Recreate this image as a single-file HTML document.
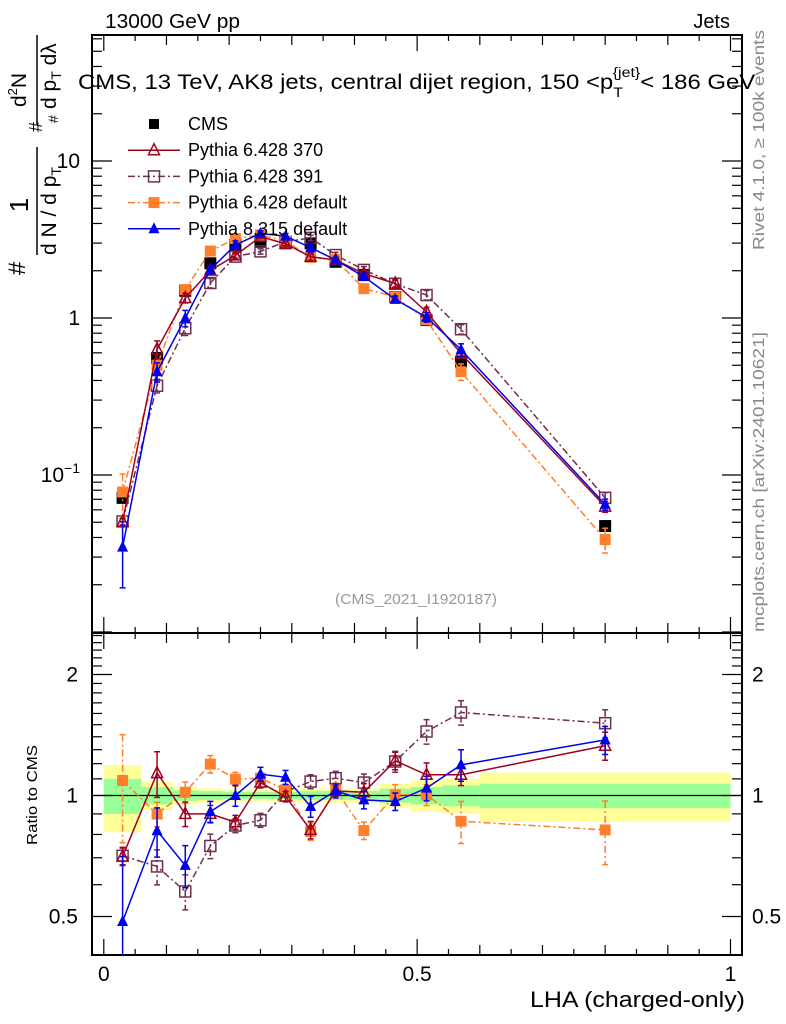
<!DOCTYPE html>
<html><head><meta charset="utf-8"><style>
body{margin:0;background:#fff}
svg{display:block;font-family:"Liberation Sans",sans-serif}
</style></head><body>
<svg id="chart" width="786" height="1024" viewBox="0 0 786 1024">
<rect x="0" y="0" width="786" height="1024" fill="#fff"/>
<g id="bands"></g>
<g id="axes"></g>
<g id="series"></g>
<text x="105" y="28" font-size="20" textLength="135" lengthAdjust="spacingAndGlyphs">13000 GeV pp</text>
<text x="730" y="28" font-size="20" text-anchor="end">Jets</text>
<text x="0" y="89" font-size="21" transform="translate(78,0) scale(1.14,1)">CMS, 13 TeV, AK8 jets, central dijet region, 150 &lt;p<tspan font-size="14" dy="8">T</tspan><tspan font-size="14" dy="-20" dx="-9">{jet}</tspan><tspan dy="12">&lt; 186 GeV</tspan></text>
<text x="416" y="604" font-size="15" fill="#999" text-anchor="middle" textLength="162" lengthAdjust="spacingAndGlyphs">(CMS_2021_I1920187)</text>
<text transform="translate(764,250) rotate(-90)" font-size="16" fill="#888" textLength="220" lengthAdjust="spacingAndGlyphs">Rivet 4.1.0, ≥ 100k events</text>
<text transform="translate(764,632) rotate(-90)" font-size="16" fill="#888" textLength="300" lengthAdjust="spacingAndGlyphs">mcplots.cern.ch [arXiv:2401.10621]</text>
<text x="745" y="1007" font-size="22" text-anchor="end" textLength="215" lengthAdjust="spacingAndGlyphs">LHA (charged-only)</text>
<text transform="translate(37,845) rotate(-90)" font-size="15" textLength="100" lengthAdjust="spacingAndGlyphs">Ratio to CMS</text>
<g transform="translate(50,275) rotate(-90)">
 <text x="0" y="-25" font-size="24">#</text>
 <text x="70" y="-22" font-size="26" text-anchor="middle">1</text>
 <line x1="20" y1="-13" x2="128" y2="-13" stroke="#000" stroke-width="1.5"/>
 <text x="20" y="6" font-size="21">d N / d p<tspan font-size="14" dy="5">T</tspan></text>
 <text x="143" y="-8" font-size="18">#</text>
 <text x="152" y="8" font-size="14">#</text>
 <text x="168" y="-24" font-size="21">d<tspan font-size="13" dy="-9">2</tspan><tspan dy="9">N</tspan></text>
 <line x1="150" y1="-13" x2="240" y2="-13" stroke="#000" stroke-width="1.5"/>
 <text x="166" y="6" font-size="21">d p<tspan font-size="14" dy="5">T</tspan><tspan dy="-5"> dλ</tspan></text>
</g>
<g id="legend"></g>
</svg>
<script>
const xCenters=[0.03,0.085,0.13,0.17,0.21,0.25,0.29,0.33,0.37,0.415,0.465,0.515,0.57,0.8];
const binEdges=[0,0.06,0.11,0.15,0.19,0.23,0.27,0.31,0.35,0.39,0.44,0.49,0.54,0.6,1.0];
const cmsValues=[0.0715,0.556,1.49,2.23,2.92,3.06,2.99,2.99,2.28,1.88,1.36,0.97,0.527,0.0473];
const cmsYellow=[0.19,0.08,0.05,0.04,0.035,0.035,0.035,0.04,0.04,0.04,0.07,0.09,0.1,0.14];
const cmsGreen=[0.1,0.05,0.03,0.025,0.02,0.02,0.02,0.025,0.025,0.025,0.04,0.05,0.06,0.07];
const ratio370=[0.705,1.137,0.90,0.90,0.858,1.077,0.994,0.821,1.027,1.019,1.22,1.126,1.126,1.33];
const ratio391=[0.708,0.666,0.577,0.749,0.842,0.868,1.023,1.083,1.104,1.077,1.215,1.443,1.609,1.513];
const ratioP6def=[1.09,0.899,1.019,1.197,1.098,1.104,1.033,0.814,1.033,0.818,1.004,1.004,0.863,0.821];
const ratioP8def=[0.486,0.817,0.67,0.912,1.0,1.13,1.11,0.939,1.027,0.975,0.966,1.043,1.192,1.375];
const err370=[0.05,0.13,0.07,0.05,0.04,0.03,0.03,0.05,0.03,0.05,0.05,0.07,0.06,0.08];
const err391=[0.05,0.1,0.1,0.07,0.04,0.04,0.03,0.04,0.04,0.05,0.06,0.07,0.07,0.08];
const errP6def=[0.3,0.07,0.06,0.05,0.04,0.03,0.03,0.05,0.04,0.05,0.06,0.06,0.12,0.18];
const errP8def=[0.45,0.14,0.12,0.06,0.06,0.04,0.04,0.06,0.04,0.05,0.05,0.07,0.09,0.08];
const cmsErr=[0.03,0.02,0.02,0.02,0.02,0.02,0.02,0.02,0.02,0.02,0.02,0.02,0.03,0.04];
const legendLabels=["CMS","Pythia 6.428 370","Pythia 6.428 391","Pythia 6.428 default","Pythia 8.315 default"];

const NS="http://www.w3.org/2000/svg";
const L=92,R=742,T=35,MID=633,B=955;
const xs=v=>103.8+626.7*v;
const yTop=v=>318-157*Math.log10(v);
const yRat=v=>795.5-402*Math.log10(v);
function mk(tag,attrs,parent){const e=document.createElementNS(NS,tag);for(const k in attrs)e.setAttribute(k,attrs[k]);parent.appendChild(e);return e;}
const axes=document.getElementById('axes'),bands=document.getElementById('bands'),ser=document.getElementById('series'),leg=document.getElementById('legend');

for(let i=0;i<xCenters.length;i++){
 const x0=xs(binEdges[i]),x1=xs(binEdges[i+1]);
 const y=mk('rect',{x:x0,y:yRat(1+cmsYellow[i]),width:x1-x0,height:yRat(1-cmsYellow[i])-yRat(1+cmsYellow[i]),fill:'#ffff99'},bands);
 
 
 const g=mk('rect',{x:x0,y:yRat(1+cmsGreen[i]),width:x1-x0,height:yRat(1-cmsGreen[i])-yRat(1+cmsGreen[i]),fill:'#99ff99'},bands);
 
 
}
const one=mk('line',{x1:L,x2:R,y1:yRat(1),y2:yRat(1),stroke:'#000','stroke-width':1.3},bands);



const f1=mk('rect',{x:L,y:T,width:R-L,height:MID-T,fill:'none',stroke:'#000','stroke-width':2},axes);


const f2=mk('rect',{x:L,y:MID,width:R-L,height:B-MID,fill:'none',stroke:'#000','stroke-width':2},axes);


for(let k=0;k<=20;k++){
 const v=k*0.05,x=xs(v),len=(k%10===0)?16:(k%2===0?10:6);
 [[T,1],[MID,-1],[MID,1],[B,-1]].forEach(([y0,d])=>mk('line',{x1:x,x2:x,y1:y0,y2:y0+d*len,stroke:'#000','stroke-width':1.2},axes));
}
[[0,'0'],[0.5,'0.5'],[1,'1']].forEach(([v,t])=>{const e=mk('text',{x:xs(v),y:981,'font-size':21,'text-anchor':'middle'},axes);e.textContent=t;
 
 });
for(let d=-2;d<=1;d++){for(let m=1;m<=9;m++){const v=m*Math.pow(10,d),y=yTop(v);if(y<T||y>MID)continue;const len=m===1?20:10;
 mk('line',{x1:L,x2:L+len,y1:y,y2:y,stroke:'#000','stroke-width':1.2},axes);mk('line',{x1:R,x2:R-len,y1:y,y2:y,stroke:'#000','stroke-width':1.2},axes);}}
[[10,'10'],[1,'1']].forEach(([v,t])=>{const e=mk('text',{x:80,y:yTop(v)+7,'font-size':21,'text-anchor':'end'},axes);e.textContent=t;
 
 });
const e10=mk('text',{x:80,y:yTop(0.1)+7,'font-size':21,'text-anchor':'end'},axes);e10.innerHTML='10<tspan font-size="14" dy="-9">−1</tspan>';


[0.4,0.5,0.6,0.7,0.8,0.9,1,1.1,1.2,1.3,1.4,1.5,1.6,1.7,1.8,1.9,2,2.1,2.2,2.3,2.4,2.5].forEach(v=>{const y=yRat(v);if(y<MID||y>B)return;const major=(v===0.5||v===1||v===2);const len=major?20:10;
 mk('line',{x1:L,x2:L+len,y1:y,y2:y,stroke:'#000','stroke-width':1.2},axes);mk('line',{x1:R,x2:R-len,y1:y,y2:y,stroke:'#000','stroke-width':1.2},axes);});
[[2,'2'],[1,'1'],[0.5,'0.5']].forEach(([v,t])=>{[[78,'end'],[752,'start']].forEach(([x,a])=>{const e=mk('text',{x:x,y:yRat(v)+7,'font-size':21,'text-anchor':a},axes);e.textContent=t;
 
 });});

function marker(g,type,color,x,y,s){
 if(type==='fsq')mk('rect',{x:x-s,y:y-s,width:2*s,height:2*s,fill:color},g);
 else if(type==='osq')mk('rect',{x:x-s,y:y-s,width:2*s,height:2*s,fill:'none',stroke:color,'stroke-width':1.5},g);
 else if(type==='ftri')mk('polygon',{points:`${x},${y-s-1} ${x-s},${y+s-1} ${x+s},${y+s-1}`,fill:color},g);
 else mk('polygon',{points:`${x},${y-s-1} ${x-s},${y+s-1} ${x+s},${y+s-1}`,fill:'none',stroke:color,'stroke-width':1.5},g);
}
function drawSeries(name,ratios,errs,color,type,dash){
 const g=mk('g',{},ser);
 
 
 const panels=[[yTop,i=>cmsValues[i]*ratios[i],T,MID],[yRat,i=>ratios[i],MID,B]];
 panels.forEach(([yf,val,lo,hi])=>{
  const pts=xCenters.map((x,i)=>xs(x)+','+yf(val(i))).join(' ');
  const a={points:pts,fill:'none',stroke:color,'stroke-width':1.5};if(dash)a['stroke-dasharray']=dash;mk('polyline',a,g);
  xCenters.forEach((x,i)=>{const v=val(i),px=xs(x);const yu=yf(v*(1+errs[i])),yd=yf(Math.max(v*(1-errs[i]),1e-3));
   const ya=Math.max(yu,lo),yb=Math.min(yd,hi);
   const la={x1:px,x2:px,y1:ya,y2:yb,stroke:color,'stroke-width':1.5};if(dash)la['stroke-dasharray']=dash;mk('line',la,g);
   if(yu>=lo)mk('line',{x1:px-3,x2:px+3,y1:yu,y2:yu,stroke:color,'stroke-width':1.5},g);
   if(yd<=hi)mk('line',{x1:px-3,x2:px+3,y1:yd,y2:yd,stroke:color,'stroke-width':1.5},g);
   marker(g,type,color,px,yf(v),5.5);});
 });
}
(function(){const g=mk('g',{},ser);
 
 
 xCenters.forEach((x,i)=>{const v=cmsValues[i],px=xs(x);mk('line',{x1:px,x2:px,y1:yTop(v*(1+cmsErr[i])),y2:yTop(v*(1-cmsErr[i])),stroke:'#000','stroke-width':1.5},g);marker(g,'fsq','#000',px,yTop(v),6);});})();
drawSeries('pythia6-391',ratio391,err391,'#6f2f4f','osq','7,3,2,3');
drawSeries('pythia6-default',ratioP6def,errP6def,'#ff7f2a','fsq','7,3,2,3');
drawSeries('pythia6-370',ratio370,err370,'#a0001e','otri',null);
drawSeries('pythia8-default',ratioP8def,errP8def,'#0000ee','ftri',null);

const lcols=[['#000','fsq',null,false],['#a0001e','otri',null,true],['#6f2f4f','osq','7,3,2,3',true],['#ff7f2a','fsq','7,3,2,3',true],['#0000ee','ftri',null,true]];
legendLabels.forEach((t,i)=>{const y=124+i*26.2;const g=mk('g',{},leg);
 
 
 const [c,ty,da,ln]=lcols[i];
 if(ln){const a={x1:128,x2:180,y1:y,y2:y,stroke:c,'stroke-width':1.5};if(da)a['stroke-dasharray']=da;mk('line',a,g);}
 marker(g,ty,c,154,y,i===0?5:5.5);
 const e=mk('text',{x:188,y:y+6,'font-size':18},g);e.textContent=t;});
</script>
</body></html>
